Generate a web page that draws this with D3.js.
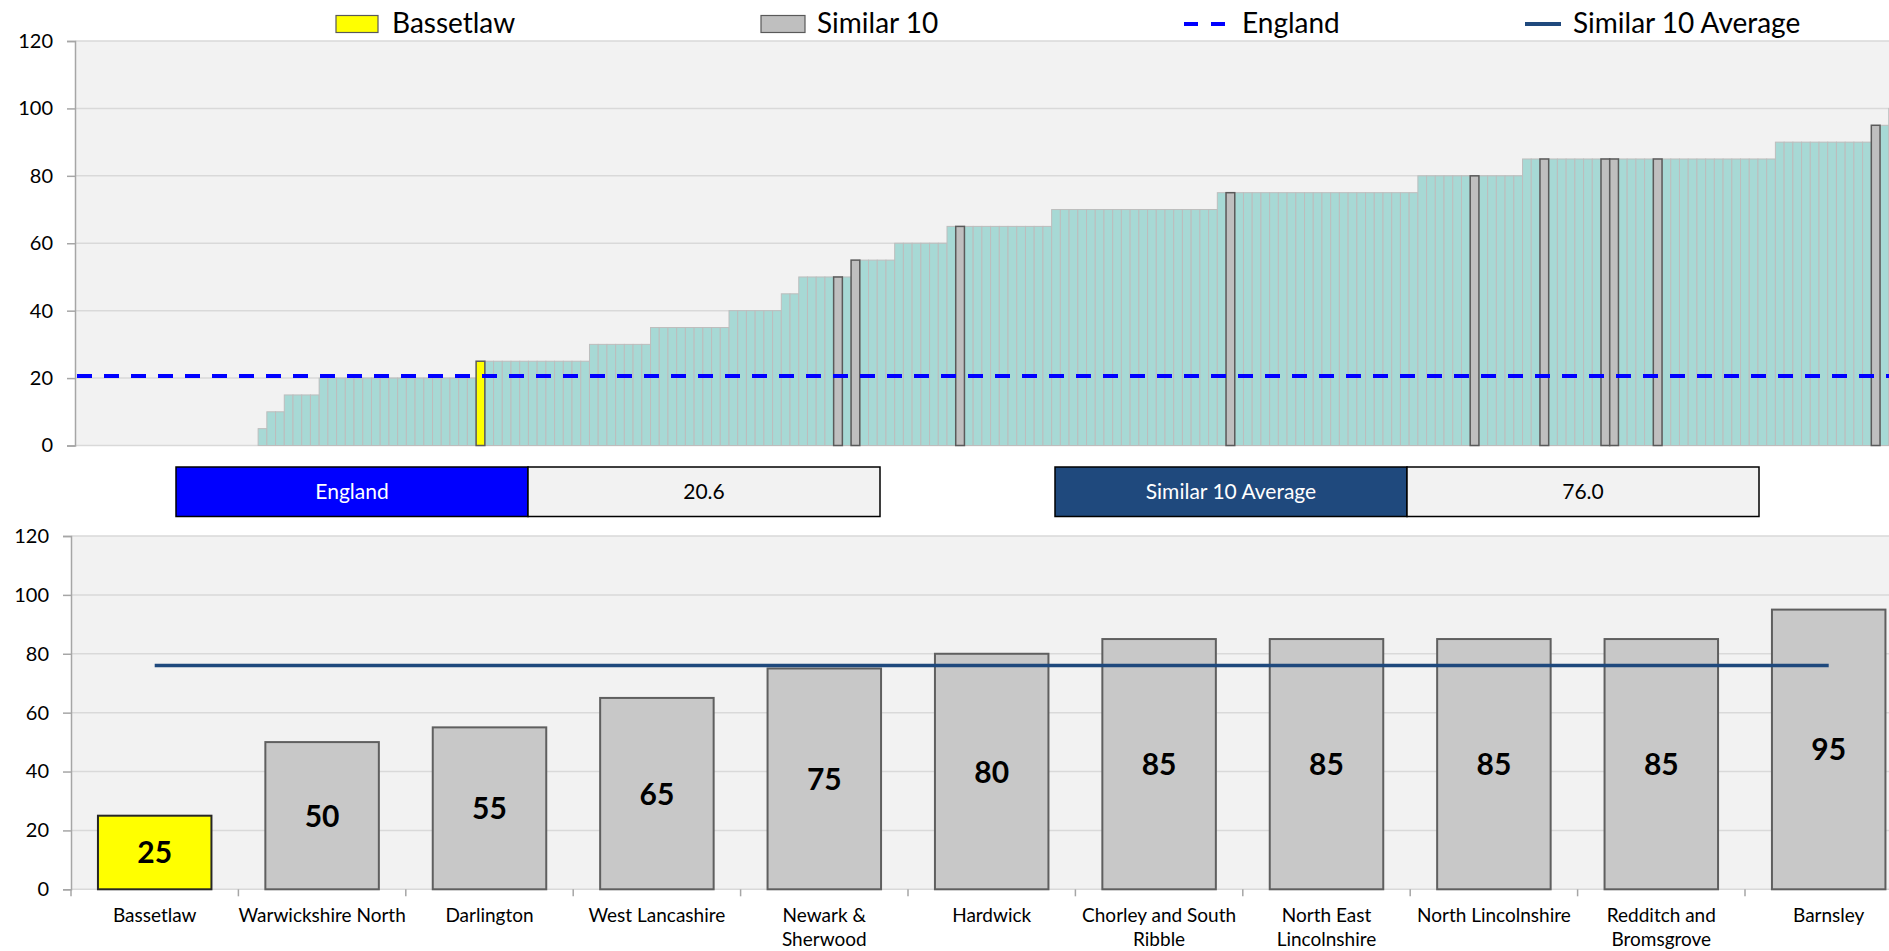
<!DOCTYPE html>
<html>
<head>
<meta charset="utf-8">
<script src="https://cdn.jsdelivr.net/npm/d3@7/dist/d3.min.js"></script>
<style>
body { margin: 0; background: #ffffff; }
svg { display: block; font-family: Lato, "Open Sans", sans-serif; }
</style>
</head>
<body>
<div id="chart"></div>
<script>
// ranked values for all areas (first ones have no value)
var rankValues = [
  null,null,null,null,null,null,null,null,null,null,null,null,null,null,null,null,null,null,null,null,null,
  5,
  10,10,
  15,15,15,15,
  20,20,20,20,20,20,20,20,20,20,20,20,20,20,20,20,20,20,
  25,25,25,25,25,25,25,25,25,25,25,25,25,
  30,30,30,30,30,30,30,
  35,35,35,35,35,35,35,35,35,
  40,40,40,40,40,40,
  45,45,
  50,50,50,50,50,50,
  55,55,55,55,55,
  60,60,60,60,60,60,
  65,65,65,65,65,65,65,65,65,65,65,65,
  70,70,70,70,70,70,70,70,70,70,70,70,70,70,70,70,70,70,70,
  75,75,75,75,75,75,75,75,75,75,75,75,75,75,75,75,75,75,75,75,75,75,75,
  80,80,80,80,80,80,80,80,80,80,80,80,
  85,85,85,85,85,85,85,85,85,85,85,85,85,85,85,85,85,85,85,85,85,85,85,85,85,85,85,85,85,
  90,90,90,90,90,90,90,90,90,90,90,
  95,95,
  100
];
var bassetlawRank = 46;
var similarRanks = [87, 89, 101, 132, 160, 168, 175, 176, 181, 206];

var englandValue = 20.6;
var similarAverage = 76.0;

var categories = ["Bassetlaw", "Warwickshire North", "Darlington", "West Lancashire",
  "Newark & Sherwood", "Hardwick", "Chorley and South Ribble", "North East Lincolnshire",
  "North Lincolnshire", "Redditch and Bromsgrove", "Barnsley"];
var categoryValues = [25, 50, 55, 65, 75, 80, 85, 85, 85, 85, 95];

var yTicks = [0, 20, 40, 60, 80, 100, 120];

var width = 1889, height = 951;
var teal = "#a7d9d5", plotBg = "#f2f2f2", gridCol = "#d9d9d9", axisCol = "#a6a6a6";
var navy = "#1f497d";

var svg = d3.select("#chart")
  .append("svg")
  .attr("width", width)
  .attr("height", height);

// ---------------- top chart: all areas ranked ----------------
var top1 = {left: 75, top: 41, bottom: 445.5, slot: 8.72};

var xTop = d3.scaleBand()
  .domain(d3.range(rankValues.length))
  .range([top1.left, top1.left + rankValues.length * top1.slot])
  .padding(0);

var yTop = d3.scaleLinear()
  .domain([0, 120])
  .range([top1.bottom, top1.top]);

svg.append("rect")
  .attr("x", top1.left).attr("y", top1.top)
  .attr("width", width - top1.left).attr("height", top1.bottom - top1.top)
  .style("fill", plotBg);

svg.append("g")
  .selectAll("line")
  .data(yTicks)
  .enter()
  .append("line")
  .attr("x1", top1.left).attr("x2", width)
  .attr("y1", function(d) { return yTop(d); })
  .attr("y2", function(d) { return yTop(d); })
  .style("stroke", gridCol)
  .style("stroke-width", 1.5);

var topAxis = svg.append("g")
  .attr("transform", "translate(" + top1.left + ",0)")
  .call(d3.axisLeft(yTop).tickValues(yTicks).tickSize(8).tickPadding(14));
topAxis.select(".domain").style("stroke", axisCol).style("stroke-width", 1.5);
topAxis.selectAll(".tick line").style("stroke", axisCol).style("stroke-width", 1.5);
topAxis.selectAll("text").style("font-size", "20px").style("fill", "#000")
  .style("font-family", "Lato, sans-serif");

var rankData = rankValues.map(function(v, i) { return {i: i, v: v}; })
  .filter(function(d) { return d.v !== null; });

function rankType(d) {
  if (d.i === bassetlawRank) return "own";
  if (similarRanks.indexOf(d.i) >= 0) return "similar";
  return "other";
}

// the plain bars first, highlighted ones on top
svg.append("g")
  .selectAll("rect")
  .data(rankData.filter(function(d) { return rankType(d) === "other"; }))
  .enter()
  .append("rect")
  .attr("x", function(d) { return xTop(d.i); })
  .attr("y", function(d) { return yTop(d.v); })
  .attr("width", xTop.bandwidth())
  .attr("height", function(d) { return yTop(0) - yTop(d.v); })
  .style("fill", teal)
  .style("stroke", "#bdbdbd")
  .style("stroke-width", 1);

svg.append("g")
  .selectAll("rect")
  .data(rankData.filter(function(d) { return rankType(d) !== "other"; }))
  .enter()
  .append("rect")
  .attr("x", function(d) { return xTop(d.i); })
  .attr("y", function(d) { return yTop(d.v); })
  .attr("width", xTop.bandwidth())
  .attr("height", function(d) { return yTop(0) - yTop(d.v); })
  .style("fill", function(d) { return rankType(d) === "own" ? "#ffff00" : "#bfbfbf"; })
  .style("stroke", "#5a5a5a")
  .style("stroke-width", 1.5);

// England line
svg.append("line")
  .attr("x1", top1.left + 2).attr("x2", width)
  .attr("y1", yTop(englandValue)).attr("y2", yTop(englandValue))
  .style("stroke", "#0000ff")
  .style("stroke-width", 4)
  .style("stroke-dasharray", "15,12");

// legend
var legend = svg.append("g").style("font-size", "28px");
legend.append("rect").attr("x", 336).attr("y", 15.5).attr("width", 42).attr("height", 17)
  .style("fill", "#ffff00").style("stroke", "#595959").style("stroke-width", 1.2);
legend.append("text").attr("x", 392).attr("y", 33).text("Bassetlaw");
legend.append("rect").attr("x", 761).attr("y", 15.5).attr("width", 44).attr("height", 17)
  .style("fill", "#bfbfbf").style("stroke", "#595959").style("stroke-width", 1.2);
legend.append("text").attr("x", 817).attr("y", 33).text("Similar 10");
legend.append("line").attr("x1", 1184).attr("x2", 1227).attr("y1", 24).attr("y2", 24)
  .style("stroke", "#0000ff").style("stroke-width", 4).style("stroke-dasharray", "14,13");
legend.append("text").attr("x", 1242).attr("y", 33).text("England");
legend.append("line").attr("x1", 1525).attr("x2", 1561).attr("y1", 24).attr("y2", 24)
  .style("stroke", navy).style("stroke-width", 4);
legend.append("text").attr("x", 1573).attr("y", 33).text("Similar 10 Average");

// ---------------- value boxes ----------------
var boxes = [
  {label: "England", value: englandValue, x: 176, fill: "#0000ff"},
  {label: "Similar 10 Average", value: similarAverage, x: 1055, fill: navy}
];
var boxW = 352, boxY = 467, boxH = 49.5;
var boxG = svg.append("g").selectAll("g").data(boxes).enter().append("g");
boxG.append("rect")
  .attr("x", function(d) { return d.x; }).attr("y", boxY)
  .attr("width", boxW).attr("height", boxH)
  .style("fill", function(d) { return d.fill; })
  .style("stroke", "#000").style("stroke-width", 1.5);
boxG.append("rect")
  .attr("x", function(d) { return d.x + boxW; }).attr("y", boxY)
  .attr("width", boxW).attr("height", boxH)
  .style("fill", "#f2f2f2")
  .style("stroke", "#000").style("stroke-width", 1.5);
boxG.append("text")
  .attr("x", function(d) { return d.x + boxW / 2; }).attr("y", boxY + boxH / 2 + 7)
  .attr("text-anchor", "middle")
  .style("font-size", "21px").style("fill", "#fff")
  .text(function(d) { return d.label; });
boxG.append("text")
  .attr("x", function(d) { return d.x + boxW * 1.5; }).attr("y", boxY + boxH / 2 + 7)
  .attr("text-anchor", "middle")
  .style("font-size", "21px").style("fill", "#000")
  .text(function(d) { return d.value.toFixed(1); });

// ---------------- bottom chart: similar 10 ----------------
var bot = {left: 71, top: 536, bottom: 889.3, step: 167.4};

var xBot = d3.scaleBand()
  .domain(categories)
  .range([bot.left, bot.left + categories.length * bot.step])
  .paddingInner(0.322)
  .paddingOuter(0.161);

var yBot = d3.scaleLinear()
  .domain([0, 120])
  .range([bot.bottom, bot.top]);

svg.append("rect")
  .attr("x", bot.left).attr("y", bot.top)
  .attr("width", width - bot.left).attr("height", bot.bottom - bot.top)
  .style("fill", plotBg);

svg.append("g")
  .selectAll("line")
  .data(yTicks)
  .enter()
  .append("line")
  .attr("x1", bot.left).attr("x2", width)
  .attr("y1", function(d) { return yBot(d); })
  .attr("y2", function(d) { return yBot(d); })
  .style("stroke", gridCol)
  .style("stroke-width", 1.5);

var botAxis = svg.append("g")
  .attr("transform", "translate(" + bot.left + ",0)")
  .call(d3.axisLeft(yBot).tickValues(yTicks).tickSize(8).tickPadding(14));
botAxis.select(".domain").style("stroke", axisCol).style("stroke-width", 1.5);
botAxis.selectAll(".tick line").style("stroke", axisCol).style("stroke-width", 1.5);
botAxis.selectAll("text").style("font-size", "20px").style("fill", "#000")
  .style("font-family", "Lato, sans-serif");

// category boundary ticks under the baseline
var gapHalf = (xBot.step() - xBot.bandwidth()) / 2;
svg.append("g")
  .selectAll("line")
  .data(categories)
  .enter()
  .append("line")
  .attr("x1", function(d) { return xBot(d) - gapHalf; })
  .attr("x2", function(d) { return xBot(d) - gapHalf; })
  .attr("y1", bot.bottom).attr("y2", bot.bottom + 7)
  .style("stroke", axisCol).style("stroke-width", 1.5);

var botData = categories.map(function(c, i) { return {name: c, v: categoryValues[i], i: i}; });

svg.append("g")
  .selectAll("rect")
  .data(botData)
  .enter()
  .append("rect")
  .attr("x", function(d) { return xBot(d.name); })
  .attr("y", function(d) { return yBot(d.v); })
  .attr("width", xBot.bandwidth())
  .attr("height", function(d) { return yBot(0) - yBot(d.v); })
  .style("fill", function(d) { return d.i === 0 ? "#ffff00" : "#c8c8c8"; })
  .style("stroke", function(d) { return d.i === 0 ? "#262626" : "#5f5f5f"; })
  .style("stroke-width", 2);

// similar 10 average line
svg.append("line")
  .attr("x1", xBot(categories[0]) + xBot.bandwidth() / 2)
  .attr("x2", xBot(categories[categories.length - 1]) + xBot.bandwidth() / 2)
  .attr("y1", yBot(similarAverage)).attr("y2", yBot(similarAverage))
  .style("stroke", navy)
  .style("stroke-width", 3.5);

// value labels in the middle of the bars
svg.append("g")
  .selectAll("text")
  .data(botData)
  .enter()
  .append("text")
  .attr("x", function(d) { return xBot(d.name) + xBot.bandwidth() / 2; })
  .attr("y", function(d) { return (yBot(d.v) + yBot(0)) / 2 + 11; })
  .attr("text-anchor", "middle")
  .style("font-size", "30px")
  .style("font-weight", "bold")
  .text(function(d) { return d.v; });

// category labels, wrapped to the band
var labelG = svg.append("g").style("font-size", "19px");
categories.forEach(function(c) {
  var t = labelG.append("text")
    .attr("x", xBot(c) + xBot.bandwidth() / 2)
    .attr("y", 922)
    .attr("text-anchor", "middle");
  var words = c.split(" "), line = [], lines = [];
  var probe = labelG.append("text").style("visibility", "hidden");
  words.forEach(function(w) {
    probe.text(line.concat([w]).join(" "));
    if (line.length && probe.node().getComputedTextLength() > 168) {
      lines.push(line.join(" "));
      line = [w];
    } else {
      line.push(w);
    }
  });
  lines.push(line.join(" "));
  probe.remove();
  lines.forEach(function(l, k) {
    t.append("tspan")
      .attr("x", xBot(c) + xBot.bandwidth() / 2)
      .attr("dy", k === 0 ? 0 : 24)
      .text(l);
  });
});
</script>
</body>
</html>
